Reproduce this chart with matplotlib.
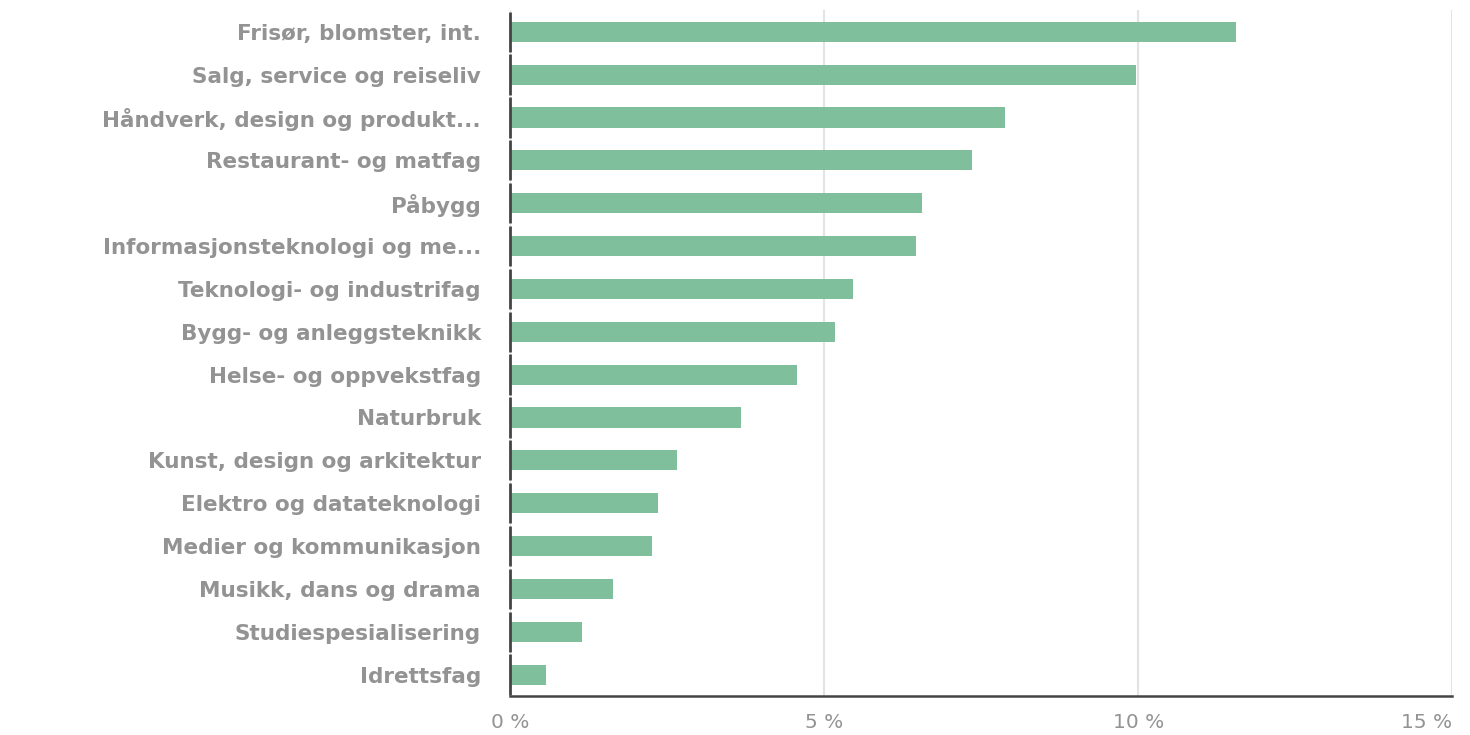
import matplotlib
matplotlib.use("Agg")
import matplotlib.pyplot as plt

categories = [
    "Frisør, blomster, int.",
    "Salg, service og reiseliv",
    "Håndverk, design og produkt...",
    "Restaurant- og matfag",
    "Påbygg",
    "Informasjonsteknologi og me...",
    "Teknologi- og industrifag",
    "Bygg- og anleggsteknikk",
    "Helse- og oppvekstfag",
    "Naturbruk",
    "Kunst, design og arkitektur",
    "Elektro og datateknologi",
    "Medier og kommunikasjon",
    "Musikk, dans og drama",
    "Studiespesialisering",
    "Idrettsfag",
]
values = [11.56, 9.97, 7.88, 7.36, 6.56, 6.46, 5.46, 5.18, 4.57, 3.68,
          2.66, 2.36, 2.26, 1.64, 1.15, 0.57]
x_ticks = [0, 5, 10, 15]
x_tick_labels = ["0 %", "5 %", "10 %", "15 %"]

BAR_COLOR = "#7fbf9b"
TEXT_COLOR = "#939393"
AXIS_COLOR = "#444444"

fig = plt.figure(figsize=(14.7, 7.35), dpi=100)
ax = fig.add_axes([0.347, 0.053, 0.641, 0.933])

y = list(range(len(categories)))
ax.barh(y, values, height=0.47, color=BAR_COLOR, zorder=3)
ax.set_ylim(len(categories) - 0.5, -0.5)
ax.set_xlim(0, 15)

ax.set_xticks(x_ticks)
ax.set_xticklabels(x_tick_labels)
ax.grid(axis="x", color="#e3e3e3", linewidth=1.5, zorder=0)

ax.set_yticks(y)
ax.set_yticklabels(categories)
ax.tick_params(axis="y", length=0, pad=21, labelsize=15.5, labelcolor=TEXT_COLOR)
ax.tick_params(axis="x", length=0, pad=12, labelsize=14.5, labelcolor=TEXT_COLOR)
for lbl in ax.get_yticklabels():
    lbl.set_fontweight("bold")
# last x label would run off the figure edge, pull it inside
ax.get_xticklabels()[-1].set_horizontalalignment("right")

# left axis drawn as one segment per category band, small gaps between
for side in ("top", "right", "left"):
    ax.spines[side].set_visible(False)
ax.vlines([0] * len(y), [i - 0.47 for i in y], [i + 0.47 for i in y],
          color=AXIS_COLOR, linewidth=2, zorder=4, clip_on=False)
ax.spines["bottom"].set_color(AXIS_COLOR)
ax.spines["bottom"].set_linewidth(1.8)

fig.savefig("out.png", dpi=100)
